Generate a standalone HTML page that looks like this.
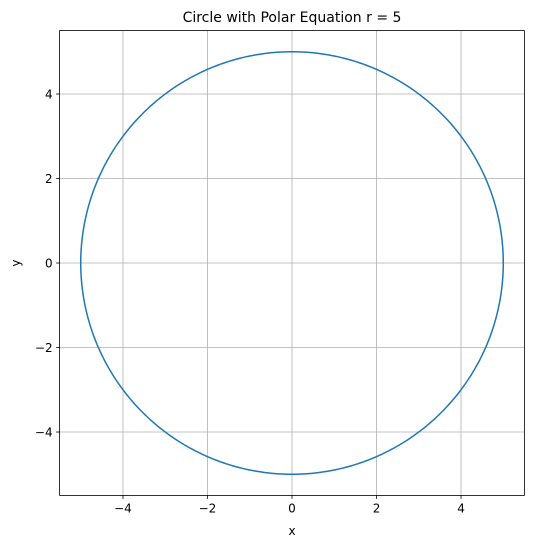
<!DOCTYPE html>
<html><head><meta charset="utf-8"><style>
html,body{margin:0;padding:0;background:#fff;}
svg text{font-family:"DejaVu Sans","Liberation Sans",sans-serif;}
</style></head><body>
<svg id="chart" width="534" height="547" viewBox="0 0 534 547" xmlns="http://www.w3.org/2000/svg">
<rect width="534" height="547" fill="#fff"/>
<g id="grid"></g>
<path id="curve" fill="none" stroke="#1f77b4" stroke-width="1.5"/>
<rect x="59.6" y="30.6" width="464.8" height="464.8" fill="none" stroke="#000" stroke-width="0.8"/>
<g id="ticks"></g>
<text x="292" y="22" text-anchor="middle" font-size="14">Circle with Polar Equation r = 5</text>
<text x="292" y="535" text-anchor="middle" font-size="12">x</text>
<text x="20" y="263" text-anchor="middle" font-size="12" transform="rotate(-90 20 263)">y</text>
</svg>
<script>
const xTicks = [-4, -2, 0, 2, 4];
const yTicks = [-4, -2, 0, 2, 4];
const radius = [5];
const center = [0, 0];
const domain = [-5.5, 5.5];

const L = 59.6, R = 524.4, T = 30.6, B = 495.4;
const sx = v => L + (v - domain[0]) / (domain[1] - domain[0]) * (R - L);
const sy = v => B - (v - domain[0]) / (domain[1] - domain[0]) * (B - T);
const NS = "http://www.w3.org/2000/svg";
const grid = document.getElementById('grid');
const ticks = document.getElementById('ticks');
function mk(tag, attrs, parent) {
  const e = document.createElementNS(NS, tag);
  for (const k in attrs) e.setAttribute(k, attrs[k]);
  parent.appendChild(e);
  return e;
}
const lab = v => (v < 0 ? '\u2212' + Math.abs(v) : '' + v);
xTicks.forEach(v => {
  const x = sx(v);
  const g = mk('line', {x1: x, x2: x, y1: T, y2: B, stroke: '#b0b0b0', 'stroke-width': 0.8}, grid);
  
  
  const t = mk('line', {x1: x, x2: x, y1: B, y2: B + 3.5, stroke: '#000', 'stroke-width': 0.8}, ticks);
  
  
  const tx = mk('text', {x: x, y: B + 17, 'text-anchor': 'middle', 'font-size': 12}, ticks);
  tx.textContent = lab(v);
  
  
});
yTicks.forEach(v => {
  const y = sy(v);
  const g = mk('line', {x1: L, x2: R, y1: y, y2: y, stroke: '#b0b0b0', 'stroke-width': 0.8}, grid);
  
  
  const t = mk('line', {x1: L - 3.5, x2: L, y1: y, y2: y, stroke: '#000', 'stroke-width': 0.8}, ticks);
  
  
  const tx = mk('text', {x: L - 7, y: y + 4.5, 'text-anchor': 'end', 'font-size': 12}, ticks);
  tx.textContent = lab(v);
  
  
});
let d = '';
const N = 400;
for (let i = 0; i <= N; i++) {
  const th = i / N * 2 * Math.PI;
  const x = center[0] + radius[0] * Math.cos(th), y = center[1] + radius[0] * Math.sin(th);
  d += (i ? 'L' : 'M') + sx(x).toFixed(2) + ',' + sy(y).toFixed(2);
}
document.getElementById('curve').setAttribute('d', d);
</script>
</body></html>
